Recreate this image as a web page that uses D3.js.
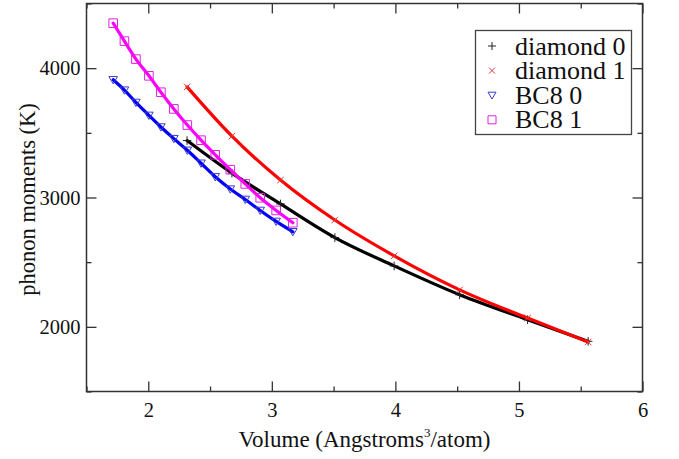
<!DOCTYPE html>
<html>
<head>
<meta charset="utf-8">
<script src="https://cdn.jsdelivr.net/npm/d3@7"></script>
<style>
  html, body { margin: 0; padding: 0; background: #fff; }
  svg { display: block; }
  svg text { font-family: "Liberation Serif", "Times New Roman", Times, Tinos, "DejaVu Serif", "Noto Serif", serif; fill: #111; }
</style>
</head>
<body>
<div id="chart"></div>
<script>
// ---- data ----
const xTicks = [2, 3, 4, 5, 6];
const yTicks = [2000, 3000, 4000];
const xMinorTicks = [1.5, 2.5, 3.5, 4.5, 5.5];
const yMinorTicks = [1500, 2500, 3500, 4500];

const seriesNames = ["diamond 0", "diamond 1", "BC8 0", "BC8 1"];

const diamondVolume = [2.314, 2.677, 3.07, 3.51, 3.99, 4.52, 5.07, 5.56];
const diamond0 = [3440, 3188, 2950, 2690, 2471, 2248, 2055, 1888];
const diamond1 = [3855, 3474, 3135, 2826, 2549, 2286, 2068, 1883];

const bc8Volume = [1.716, 1.807, 1.900, 2.005, 2.102, 2.207, 2.316, 2.427, 2.542, 2.664, 2.785, 2.906, 3.035, 3.170];
const bc80 = [3910, 3830, 3735, 3635, 3545, 3455, 3365, 3265, 3160, 3065, 2985, 2900, 2815, 2735];
const bc81 = [4348, 4209, 4070, 3941, 3814, 3685, 3560, 3443, 3330, 3215, 3105, 2998, 2900, 2805];

// ---- layout ----
const W = 679, H = 459;
const pLeft = 86.5, pRight = 642.5, pTop = 3.5, pBottom = 391.5;
const serif = '"Liberation Serif", "Times New Roman", Times, Tinos, "DejaVu Serif", "Noto Serif", serif';

const svg = d3.select("#chart").append("svg").attr("width", W).attr("height", H);

const x = d3.scaleLinear().domain([1.5, 6]).range([pLeft, pRight]);
const y = d3.scaleLinear().domain([1500, 4500]).range([pBottom, pTop]);

const series = [
  { name: seriesNames[0], xs: diamondVolume, ys: diamond0, color: "#000000", mcolor: "#222222", marker: "plus" },
  { name: seriesNames[1], xs: diamondVolume, ys: diamond1, color: "#ff0000", mcolor: "#e03a3a", marker: "cross" },
  { name: seriesNames[2], xs: bc8Volume, ys: bc80, color: "#0000ff", mcolor: "#3a3acc", marker: "tri" },
  { name: seriesNames[3], xs: bc8Volume, ys: bc81, color: "#ff00ff", mcolor: "#dd22dd", marker: "square" }
];

function markerPath(type, s) {
  const p = d3.path();
  if (type === "plus") {
    p.moveTo(-s, 0); p.lineTo(s, 0); p.moveTo(0, -s); p.lineTo(0, s);
  } else if (type === "cross") {
    const d = s * 0.75;
    p.moveTo(-d, -d); p.lineTo(d, d); p.moveTo(-d, d); p.lineTo(d, -d);
  } else if (type === "tri") {
    p.moveTo(-s, -s * 0.75); p.lineTo(s, -s * 0.75); p.lineTo(0, s * 0.95); p.closePath();
  } else if (type === "square") {
    p.rect(-s, -s, 2 * s, 2 * s);
  }
  return p.toString();
}

// ---- lines ----
const line = d3.line().x(d => x(d[0])).y(d => y(d[1])).curve(d3.curveMonotoneX);
const plot = svg.append("g");
series.forEach(s => {
  const pts = s.xs.map((v, i) => [v, s.ys[i]]);
  plot.append("path")
    .attr("d", line(pts))
    .attr("fill", "none")
    .attr("stroke", s.color)
    .attr("stroke-width", 3.2)
    .attr("stroke-linejoin", "round")
    .attr("stroke-linecap", "round");
  plot.append("g").selectAll("path").data(pts).join("path")
    .attr("transform", d => `translate(${x(d[0])},${y(d[1])})`)
    .attr("d", markerPath(s.marker, 4.3))
    .attr("fill", "none")
    .attr("stroke", s.mcolor)
    .attr("stroke-width", 1);
});

// ---- frame & ticks (inward, mirrored) ----
const axisColor = "#333";
svg.append("rect")
  .attr("x", pLeft).attr("y", pTop)
  .attr("width", pRight - pLeft).attr("height", pBottom - pTop)
  .attr("fill", "none").attr("stroke", axisColor).attr("stroke-width", 1.5);

const axB = d3.axisBottom(x).tickValues(xTicks).tickSize(-10).tickFormat(d3.format("d")).tickPadding(11);
const axBm = d3.axisBottom(x).tickValues(xMinorTicks).tickSize(-5).tickFormat("");
const axT = d3.axisTop(x).tickValues(xTicks).tickSize(-10).tickFormat("");
const axTm = d3.axisTop(x).tickValues(xMinorTicks).tickSize(-5).tickFormat("");
const axL = d3.axisLeft(y).tickValues(yTicks).tickSize(-10).tickFormat(d3.format("d")).tickPadding(6);
const axLm = d3.axisLeft(y).tickValues(yMinorTicks).tickSize(-5).tickFormat("");
const axR = d3.axisRight(y).tickValues(yTicks).tickSize(-10).tickFormat("");
const axRm = d3.axisRight(y).tickValues(yMinorTicks).tickSize(-5).tickFormat("");

function styleAxis(g) {
  g.select(".domain").remove();
  g.attr("font-family", serif);
  g.selectAll(".tick line").attr("stroke", axisColor).attr("stroke-width", 1.3);
  g.selectAll(".tick text").style("font-family", serif).style("font-size", "20.5px").attr("fill", "#111");
}
svg.append("g").attr("transform", `translate(0,${pBottom})`).call(axB).call(styleAxis);
svg.append("g").attr("transform", `translate(0,${pBottom})`).call(axBm).call(styleAxis);
svg.append("g").attr("transform", `translate(0,${pTop})`).call(axT).call(styleAxis);
svg.append("g").attr("transform", `translate(0,${pTop})`).call(axTm).call(styleAxis);
svg.append("g").attr("transform", `translate(${pLeft},0)`).call(axL).call(styleAxis);
svg.append("g").attr("transform", `translate(${pLeft},0)`).call(axLm).call(styleAxis);
svg.append("g").attr("transform", `translate(${pRight},0)`).call(axR).call(styleAxis);
svg.append("g").attr("transform", `translate(${pRight},0)`).call(axRm).call(styleAxis);

// ---- axis titles ----
const xt = svg.append("text")
  .attr("x", (pLeft + pRight) / 2).attr("y", 447)
  .attr("text-anchor", "middle")
  .style("font-family", serif)
  .style("font-size", "23px");
xt.append("tspan").text("Volume (Angstroms");
xt.append("tspan").attr("dy", -10).style("font-size", "13px").text("3");
xt.append("tspan").attr("dy", 10).text("/atom)");

svg.append("text")
  .attr("transform", `translate(35,${(pTop + pBottom) / 2 + 2}) rotate(-90)`)
  .attr("text-anchor", "middle")
  .style("font-family", serif)
  .style("font-size", "22.5px")
  .text("phonon moments (K)");

// ---- legend ----
const lg = svg.append("g");
lg.append("rect")
  .attr("x", 475.5).attr("y", 30.5).attr("width", 156).attr("height", 104)
  .attr("fill", "#fff").attr("stroke", "#444").attr("stroke-width", 1.3);
series.forEach((s, i) => {
  const cy = 46 + i * 24.6;
  lg.append("path")
    .attr("transform", `translate(492,${cy})`)
    .attr("d", markerPath(s.marker, 4))
    .attr("fill", "none").attr("stroke", s.mcolor).attr("stroke-width", 1);
  lg.append("text")
    .attr("x", 515).attr("y", cy + 8.5)
    .style("font-family", serif)
    .style("font-size", "26px")
    .text(s.name);
});
</script>
</body>
</html>
